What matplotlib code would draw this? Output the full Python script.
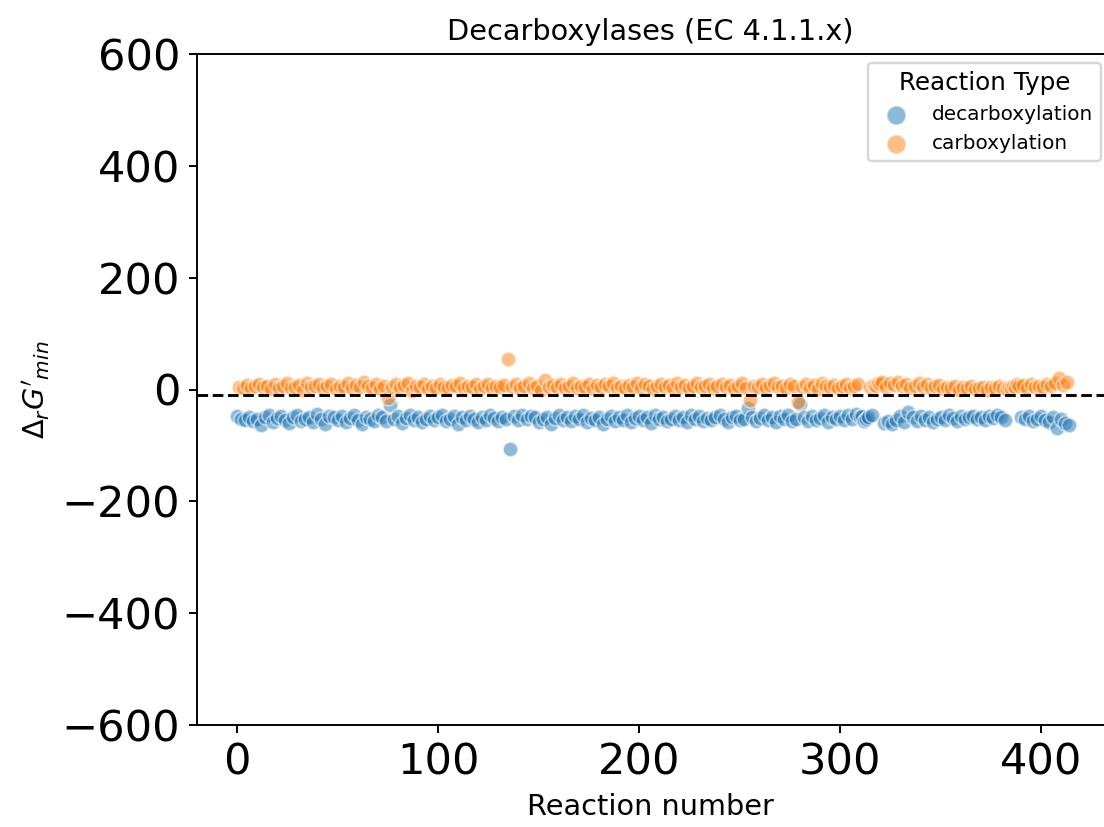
import matplotlib
matplotlib.use("Agg")
import matplotlib.pyplot as plt
import numpy as np

# delta G'min per reaction, in reaction-number order (20 per line)
dg_min = [
    -48, 5, -52, 3, -55, 8, -50, 2, -57, 6, -53, 10, -63, 4, -49, 7, -46, 1, -58, 9,
    -51, 3, -47, 6, -54, 11, -60, 2, -50, 5, -45, 8, -56, 0, -52, 12, -49, 4, -58, 7,
    -44, 9, -53, 3, -61, 6, -48, 10, -50, 1, -55, 7, -47, 5, -59, 11, -51, 2, -46, 8,
    -54, 4, -62, 13, -49, 6, -52, 3, -57, 9, -45, 1, -50, 7, -56, -15, -28, 5, -53, 10,
    -48, 2, -60, 8, -51, 12, -46, -2, -55, 6, -49, 4, -58, 9, -52, 1, -47, 7, -54, 3,
    -50, 10, -45, 5, -57, 2, -53, 8, -48, 6, -61, 11, -50, 3, -55, 7, -47, 4, -52, 9,
    -58, 1, -49, 6, -54, 10, -46, 3, -51, 7, -56, 5, -50, 8, -53, 55, -106, 4, -48, 9,
    -55, 2, -45, 6, -52, 11, -47, 3, -50, 7, -58, 0, -53, 17, -49, 5, -62, 8, -51, 4,
    -46, 9, -54, 3, -50, 6, -57, 12, -48, 2, -53, 7, -45, 5, -59, 10, -51, 1, -55, 8,
    -49, 4, -61, 9, -52, 6, -47, 11, -56, 3, -50, 7, -54, 2, -46, 8, -58, 5, -51, 12,
    -48, 3, -55, 9, -50, 6, -60, 1, -45, 7, -53, 10, -49, 4, -57, 8, -52, 2, -47, 11,
    -54, 5, -50, 8, -59, 3, -46, 7, -52, 12, -48, 4, -56, 6, -51, 9, -55, 2, -49, 7,
    -45, 10, -53, 4, -58, 8, -50, 1, -47, 6, -55, 11, -52, 3, -33, -19, -49, 7, -57, 5,
    -51, 9, -46, 3, -54, 8, -50, 12, -58, 4, -48, 6, -53, 2, -45, 10, -56, 7, -52, -22,
    -26, 5, -50, 9, -57, 3, -47, 8, -54, 1, -51, 11, -46, 6, -59, 4, -49, 8, -53, 2,
    -48, 7, -55, 10, -45, 3, -52, 6, -44, 9, -50, -47, -56, -53, -49, 4, -46, 8, 6, 11,
    9, 13, -60, 5, -57, 12, -62, 8, -55, 13, -48, 6, -59, 10, -40, 3, -50, 7, -56, 11,
    -47, 4, -54, 9, -50, 2, -58, 6, -52, 8, -49, 1, -55, 5, -46, 3, -51, 7, -57, 0,
    -48, 4, -53, 2, -50, 6, -47, 1, -52, 3, -49, 5, -54, 0, -48, 4, -51, 2, -46, 6,
    -50, 3, -55, 1, 5, 2, 7, 4, 9, 6, -49, 8, -53, 3, -47, 10, -56, 5, -52, 7,
    -48, 4, -54, 9, -58, 6, -50, 12, -69, 20, -52, 8, -60, 14, -64,
]
# d = decarboxylation, c = carboxylation (same order as dg_min)
reaction_type = (
    "dcdcdcdcdcdcdcdcdcdc" "dcdcdcdcdcdcdcdcdcdc" "dcdcdcdcdcdcdcdcdcdc"
    "dcdcdcdcdcdcdcdcdcdc" "dcdcdcdcdcdcdcdcdcdc" "dcdcdcdcdcdcdcdcdcdc"
    "dcdcdcdcdcdcdcdcdcdc" "dcdcdcdcdcdcdcdcdcdc" "dcdcdcdcdcdcdcdcdcdc"
    "dcdcdcdcdcdcdcdcdcdc" "dcdcdcdcdcdcdcdcdcdc" "dcdcdcdcdcdcdcdcdcdc"
    "dcdcdcdcdcdcdcdcdcdc" "dcdcdcdcdcdcdcdcdcdc" "dcdcdcdcdcdcdcdcdcdc"
    "dcdcdcdcdcdddddcdccc" "ccdcdcdcdcdcdcdcdcdc" "dcdcdcdcdcdcdcdcdcdc"
    "dcdcdcdcdcdcdcdcdcdc" "dcdcccccccdcdcdcdcdc" "dcdcdcdcdcdcdcd"
)
type_names = {"d": "decarboxylation", "c": "carboxylation"}
type_colors = {"d": "#1f77b4", "c": "#ff7f0e"}
threshold = -10

dg = np.array(dg_min)
rtype = np.array(list(reaction_type))
rxn = np.arange(len(dg))

fig = plt.figure(figsize=(1104 / 172.5, 827 / 172.5), dpi=172.5)
ax = fig.add_axes([197 / 1104, 102 / 827, 907.5 / 1104, 671 / 827])

for key in ["d", "c"]:
    m = rtype == key
    ax.scatter(rxn[m], dg[m], s=38, color=type_colors[key], alpha=0.5,
               edgecolors="white", linewidths=0.75, label=type_names[key])

ax.axhline(threshold, color="black", ls="--", lw=1.2)

ax.set_xlim(-19.9, 431.5)
ax.set_ylim(-600, 600)
ax.set_yticks([-600, -400, -200, 0, 200, 400, 600])
ax.set_xticks([0, 100, 200, 300, 400])
ax.tick_params(axis="both", labelsize=18)
ax.set_xlabel("Reaction number", fontsize=12)
ax.set_ylabel(r"$\Delta_r G'_{min}$", fontsize=12)
ax.set_title("Decarboxylases (EC 4.1.1.x)", fontsize=12)
ax.legend(title="Reaction Type", fontsize="small", title_fontsize=10.3,
          markerscale=1.3, loc="upper right",
          bbox_to_anchor=(1111 / 1104, 1 - 53 / 827), bbox_transform=fig.transFigure)

fig.savefig("out.png", dpi=172.5)
